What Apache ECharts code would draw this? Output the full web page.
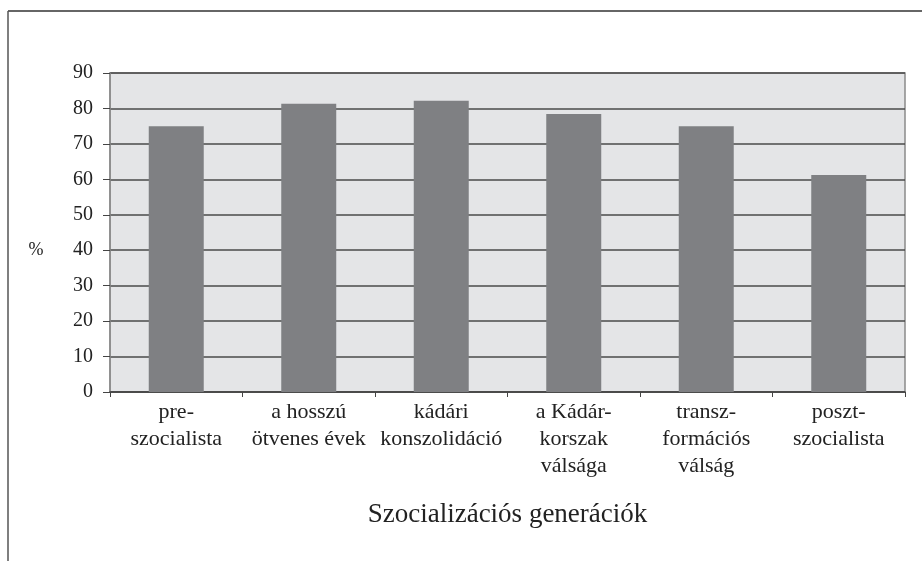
<!DOCTYPE html>
<html>
<head>
<meta charset="utf-8">
<script src="https://cdn.jsdelivr.net/npm/echarts@6/dist/echarts.min.js"></script>
<style>
  html, body { margin: 0; padding: 0; background: #fff; }
  #chart { width: 922px; height: 561px; }
</style>
</head>
<body>
<div id="chart"></div>
<script>
const categories = [
  "pre-\nszocialista",
  "a hosszú\nötvenes évek",
  "kádári\nkonszolidáció",
  "a Kádár-\nkorszak\nválsága",
  "transz-\nformációs\nválság",
  "poszt-\nszocialista",
];
const values = [75, 81.3, 82.2, 78.4, 75, 61.2];
const yTicks = { min: 0, max: 90, interval: 10 };

const font = "'Liberation Serif', 'DejaVu Serif', serif";

const chart = echarts.init(document.getElementById("chart"));
chart.setOption({
  animation: false,
  backgroundColor: "#fff",
  grid: {
    left: 110,
    right: 17,
    top: 73,
    bottom: 169,
    show: true,
    backgroundColor: "#e4e5e7",
    borderColor: "#8a8a8a",
    borderWidth: 1.5,
  },
  // frame (top and left only) plus the "%" unit label
  graphic: [
    {
      type: "line",
      shape: { x1: 8, y1: 11, x2: 922, y2: 11 },
      style: { stroke: "#333", lineWidth: 1.5 },
    },
    {
      type: "line",
      shape: { x1: 8, y1: 11, x2: 8, y2: 561 },
      style: { stroke: "#555", lineWidth: 1.5 },
    },
    {
      type: "text",
      x: 36,
      y: 250,
      style: {
        text: "%",
        fontFamily: font,
        fontSize: 18,
        fill: "#222",
        align: "center",
        verticalAlign: "middle",
      },
    },
  ],
  xAxis: {
    type: "category",
    data: categories,
    name: "Szocializációs generációk",
    nameLocation: "middle",
    nameGap: 109,
    nameTextStyle: { fontFamily: font, fontSize: 27, color: "#222" },
    axisLine: { lineStyle: { color: "#444", width: 1.5 } },
    axisTick: { show: true, length: 5, lineStyle: { color: "#444" } },
    axisLabel: {
      fontFamily: font,
      fontSize: 22,
      color: "#222",
      lineHeight: 27,
      margin: 7,
      interval: 0,
    },
  },
  yAxis: {
    type: "value",
    min: yTicks.min,
    max: yTicks.max,
    interval: yTicks.interval,
    axisLine: { show: true, lineStyle: { color: "#8a8a8a", width: 1.5 } },
    axisTick: { show: true, length: 7, lineStyle: { color: "#444" } },
    axisLabel: { fontFamily: font, fontSize: 20, color: "#222", margin: 17 },
    splitLine: { show: true, lineStyle: { color: "#4a4a4a", width: 1.5 } },
  },
  series: [
    {
      type: "bar",
      data: values,
      barWidth: "41.5%",
      itemStyle: { color: "#7f8083" },
    },
  ],
});
</script>
</body>
</html>
